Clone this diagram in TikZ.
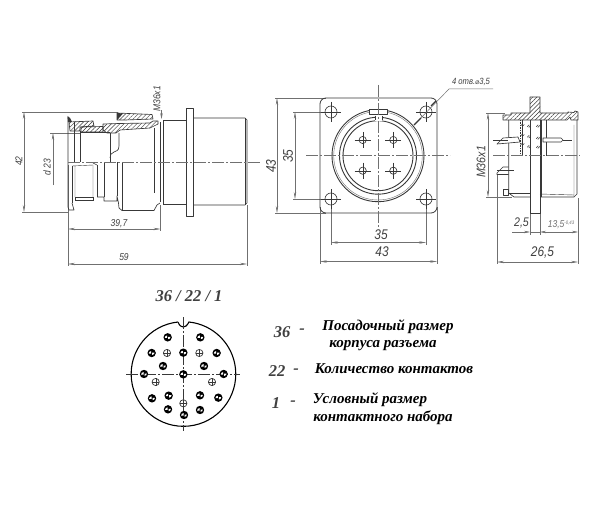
\documentclass[tikz,border=0pt]{standalone}
\usepackage{fontspec}
\setmainfont{Liberation Serif}
\newfontfamily\cadfont[FakeStretch=0.85]{Liberation Sans}
\newfontfamily\symfont{DejaVu Sans}
\usetikzlibrary{arrows.meta,patterns.meta}
\definecolor{ink}{HTML}{383838}
\definecolor{dimc}{HTML}{707070}
\definecolor{txtc}{HTML}{404040}
\tikzset{
  main/.style={draw=ink,line width=.65pt,line join=round},
  thin/.style={draw=ink,line width=.4pt},
  ext/.style={draw=dimc,line width=.4pt},
  dimen/.style={draw=dimc,line width=.45pt,{Stealth[length=7pt,width=2.4pt]}-{Stealth[length=7pt,width=2.4pt]}},
  axis/.style={draw=dimc,line width=.5pt,dash pattern=on 12pt off 2pt on 2pt off 2pt},
  hatch/.style={pattern={Lines[angle=45,distance=3pt,line width=.4pt]},pattern color=ink,draw=ink,line width=.65pt,line join=round},
  dimtxt/.style={font=\cadfont\itshape\fontsize{10}{10}\selectfont,text=txtc,inner sep=0pt},
  bigtxt/.style={font=\cadfont\itshape\fontsize{14}{14}\selectfont,text=txtc,inner sep=0pt},
  legend/.style={font=\bfseries\itshape\fontsize{15}{15}\selectfont,text=black,inner sep=0pt},
  num/.style={font=\bfseries\itshape\fontsize{16.5}{16.5}\selectfont,text=txtc,inner sep=0pt},
  openpin/.style={draw=ink,line width=.7pt,fill=white},
}
\newcommand{\pinfull}[2]{%
  \fill[black] (#1,#2) circle (4.2pt);
  \fill[white] (#1,#2) ++(.5,-.5) -- ++(2.4,0) arc[start angle=0,end angle=-90,radius=2.4pt] -- cycle;
  \fill[white] (#1,#2) ++(-.5,.5) -- ++(-2.4,0) arc[start angle=180,end angle=90,radius=2.4pt] -- cycle;}
\newcommand{\pinopen}[2]{%
  \draw[openpin] (#1,#2) circle (3.6pt);
  \draw[thin,line width=.3pt] (#1-3.6,#2) -- (#1+3.6,#2) (#1,#2-3.6) -- (#1,#2+3.6);}
\begin{document}
\begin{tikzpicture}[x=1pt,y=-1pt]
\useasboundingbox (0,0) rectangle (614,511);
\fill[white] (0,0) rectangle (614,511);

%%% ---------- left view ----------
\draw[ext] (22,112) -- (118,112) (22,212) -- (68,212);
\draw[ext] (50,133) -- (80,133);
\draw[ext] (68,165) -- (68,266) (160.5,205) -- (160.5,231) (247,205) -- (247,266);
\draw[dimen] (24,112) -- (24,212);
\draw[dimen,-{Stealth[length=7pt,width=2.4pt]}] (53,185) -- (53,133);
\draw[dimen] (68,229) -- (160.5,229);
\draw[dimen] (68,264) -- (247,264);
\draw[dimen,{Stealth[length=6pt,width=2.4pt]}-] (161.5,119) -- (161.5,110);
\node[dimtxt,rotate=90] (t42a) at (19,161) {42};
\node[dimtxt,rotate=90] (td23) at (47,167) {d 23};
\node[dimtxt] (t397) at (119,224) {39,7};
\node[dimtxt] (t59) at (124,257) {59};
\node[dimtxt,rotate=90] (tm36a) at (157,99) {M36x1};
% body right
\draw[main] (193,118) -- (245,118) -- (247,120) -- (247,203) -- (245,205) -- (193,205);
\draw[thin] (245,118) -- (245,205);
\draw[main] (186,108) rectangle (193,216);
\draw[main] (163,120.5) -- (186,120.5) (163,204) -- (186,204);
\draw[main] (163,120.5) -- (163,204);
\draw[main] (160.5,122) -- (160.5,202);
% section, hatched parts
\draw[hatch] (69,122) -- (93,121) -- (94,126) -- (80,127) -- (80,131) -- (70,131) -- cycle;
\draw[hatch] (81,127) -- (103,126.5) -- (103,132) -- (81,132) -- cycle;
\draw[hatch] (103,124) -- (119,123.5) -- (150,123) -- (153,121) -- (158,121) -- (158,124) -- (150,128) -- (120,130) -- (116,133) -- (107,133) -- (103,130) -- cycle;
\draw[hatch] (117,113) -- (152,114.5) -- (153,119) -- (125,120) -- (117,120) -- cycle;
\fill[ink] (117,113) -- (123,113.5) -- (119,118) -- (117,120) -- cycle;
\fill[ink] (67.5,116) -- (70,118) -- (72,122) -- (68,122) -- cycle;
\draw[main] (68,117) -- (68,207) -- (69,210) -- (74,210) -- (72,203);
\draw[thin] (72,203) -- (72,166);
\draw[main] (74,122) -- (74,162) (80,131) -- (80,162);
\draw[thin] (72,166) -- (93,165) -- (93,197) (75,166) -- (75,197);
\draw[thin] (75,197) rectangle (93,200);
\draw[main] (93,163) -- (97,165);
\draw[thin] (97,165) -- (97,197);
\draw[main] (97,197) -- (104,197) -- (104,201) -- (117,201) -- (117,196) -- (118.5,203) -- (119,208) -- (122,210.5) -- (154,210.5) -- (157,205) -- (160,203);
\draw[thin] (104,162) -- (104,197);
\draw[main] (117,162) -- (117,196) (122,162) -- (122,210.5);
\draw[main] (154,128) -- (154,193);
\draw[main] (110,133) -- (110,162);
\draw[main] (119,133) -- (119,146) .. controls (119,151) and (116,151) .. (114,152) .. controls (111,153) and (110,155) .. (110,158);
\draw[thin] (81,132) -- (110,132);
\draw[axis] (68,162) -- (260,162);

%%% ---------- front view ----------
\draw[ext] (275,98) -- (326,98) (275,213) -- (326,213);
\draw[ext] (293,112) -- (341,112) (293,199) -- (341,199);
\draw[ext] (320,207) -- (320,264) (437,207) -- (437,264);
\draw[ext] (331,189) -- (331,245) (426,189) -- (426,245);
\draw[dimen] (277,98) -- (277,213);
\draw[dimen] (295,112) -- (295,199);
\draw[dimen] (331,242.5) -- (426,242.5);
\draw[dimen] (320,261.5) -- (437,261.5);
\node[bigtxt,rotate=90] (t43a) at (271,166) {43};
\node[bigtxt,rotate=90] (t35a) at (288,156) {35};
\node[bigtxt] (t35b) at (381,235) {35};
\node[bigtxt] (t43b) at (382,252) {43};
\draw[main,line width=.8pt] (326,98) -- (431,98) arc[start angle=90,end angle=0,radius=6pt] -- (437,207) arc[start angle=0,end angle=-90,radius=6pt] -- (326,213) arc[start angle=-90,end angle=-180,radius=6pt] -- (320,104) arc[start angle=180,end angle=90,radius=6pt] -- cycle;
\foreach \hx/\hy in {331/112,426/112,331/199,426/199}{
  \draw[thin] (\hx-10,\hy) -- (\hx+10,\hy) (\hx,\hy-10) -- (\hx,\hy+10);
  \draw[main] (\hx,\hy) circle (6pt);
}
\draw[main,line width=.9pt] (378,155.7) circle (46pt);
\draw[thin,draw=dimc] (378,155.7) circle (44.3pt);
\draw[main,line width=.9pt] (378,155.7) circle (38.5pt);
\draw[main,line width=.9pt] (378,155.7) circle (35pt);
\fill[white] (375,116.5) rectangle (382,121.5);
\draw[main] (375,116) -- (375,120.5) (382,116) -- (382,120.5);
\draw[main,fill=white] (369.5,109.5) rectangle (387.5,114.5);
\foreach \px/\py in {362.7/140,393.3/140,362.7/170.7,393.3/170.7}{
  \draw[thin] (\px-8,\py) -- (\px+8,\py) (\px,\py-8) -- (\px,\py+8);
  \draw[main] (\px,\py) circle (3.6pt);
}
\draw[axis] (306,155.7) -- (450,155.7);
\draw[axis] (378,85) -- (378,228);
% leader
\coordinate (ldA) at (414,125);
\coordinate (ldB) at (449,89);
\coordinate (ldC) at (493,89);
\draw[dimc,line width=.5pt] (ldA) -- (ldB) -- (ldC);
\draw[ink,line width=1.1pt] (414,125) -- (421,118) (431,106) -- (436,101);
\node[dimtxt,font=\cadfont\itshape\fontsize{9}{9}\selectfont] (thole) at (471,82) {4 отв.{\symfont\fontsize{7}{7}\selectfont ⌀}3,5};

%%% ---------- side view ----------
\draw[ext] (486,113) -- (505,113) (486,197) -- (512,197);
\draw[ext] (497,175) -- (497,264) (578,198) -- (578,264);
\draw[ext] (530,213) -- (530,235) (540,198) -- (540,235);
\draw[dimen] (488,113) -- (488,197);
\draw[dimen] (497,262) -- (578,262);
\draw[dimc,line width=.45pt,-{Stealth[length=6pt,width=2.4pt]}] (512,232) -- (530,232);
\draw[dimc,line width=.45pt,{Stealth[length=6pt,width=2.4pt]}-{Stealth[length=6pt,width=2.4pt]}] (540,232) -- (578,232);
\draw[dimc,line width=.45pt] (530,232) -- (540,232);
\node[bigtxt,rotate=90,font=\cadfont\itshape\fontsize{12.5}{12.5}\selectfont] (tm36b) at (481,162) {M36x1};
\node[bigtxt,font=\cadfont\itshape\fontsize{12.5}{12.5}\selectfont] (t25) at (521.5,223) {2,5};
\node[dimtxt,text=dimc] (t135) at (561,224.5) {13,5\raisebox{3pt}{\fontsize{5}{5}\selectfont -0,43}};
\node[bigtxt] (t265) at (542.5,253) {26,5};
% body
\draw[main] (541.7,120) -- (541.7,197) (546,120) -- (546,155.7);
\draw[main] (508.7,120) -- (508.7,193) -- (514,197) -- (530,197);
\draw[thin] (508.7,193) -- (530,193);
\draw[main] (540,197) -- (574,197) -- (577,194) -- (577,120) ;
\draw[thin] (540,194) -- (574,195) (574,125) -- (574,197);
% insulator
\draw[main,densely dotted] (520.7,120) -- (520.7,155.7);
\draw[main] (522,120) -- (522,155.7);
\foreach \ix/\iy in {522.5/125,529/126,538/126,522.5/135,529/136.5,538/138,522.5/144,529/146.5,538/147}{
  \draw[ink,line width=.5pt] (\ix-1.8,\iy+.8) -- (\ix+.2,\iy-1.2) (\ix-.2,\iy+1.4) -- (\ix+1.8,\iy-.6);
}
% flange + wall
\draw[hatch] (530,97) -- (540,97) -- (540,113) -- (568,113) -- (568,112) -- (574,112.5) -- (575,111) -- (578,112) -- (578,120) -- (571,120) -- (570,117) -- (567,120) -- (503,120) -- (503,115) -- (511,115) -- (511,113) -- (530,113) -- cycle;
\draw[main] (530,120) -- (530,213) -- (540,213) -- (540,120);
% contacts
\draw[main,fill=white] (497,144) -- (503,138) -- (518,137) -- (520,142) -- cycle;
\draw[main,fill=white] (543,138) -- (561,138) -- (563,140) -- (561,142) -- (543,142) -- cycle;
\draw[thin] (493,140.3) -- (508,140.3) (563,140) -- (572,140);
\draw[main] (508.5,167) -- (503,167) -- (497,173) -- (497,174.5) -- (508.5,174.5);
\draw[thin] (497,170) -- (514,170);
\draw[main] (503,189) rectangle (508.5,195);
\draw[axis] (493,155.7) -- (580,155.7);

%%% ---------- contact layout ----------
\node[num] (ttitle) at (189,296) {36 / 22 / 1};
\draw[black,line width=1.1pt] (178,322) arc[start angle=96,end angle=444,radius=52.3pt] .. controls (187,326) and (185,327) .. (183.3,327) .. controls (181.6,327) and (179.5,326) .. (178,322);
\draw[axis,draw=ink] (126,374.3) -- (240,374.3);
\draw[axis,draw=ink] (183.3,317) -- (183.3,431);
\foreach \cx/\cy in {143/157,241/157,95/204,190/203,290/204,129/243,252/243,72/267,190/268,311/267,96/340,146/332,240/331,295/338,144/373,240/375,192/390}{
  \pinfull{120+\cx/3}{285+\cy/3}
}
\foreach \cx/\cy in {141/204,238/204,107/291,276/291,190/355}{
  \pinopen{120+\cx/3}{285+\cy/3}
}

%%% ---------- legend ----------
\node[num] (n36) at (282,332) {36};
\node[num] (d36) at (302,331) {-};
\node[legend] (l1a) at (388,327) {Посадочный размер};
\node[legend] (l1b) at (383,346) {корпуса разъема};
\node[num] (n22) at (277,371) {22};
\node[num] (d22) at (296,371) {-};
\node[legend] (l2) at (394,369) {Количество контактов};
\node[num] (n1) at (276,403) {1};
\node[num] (d1) at (293,403) {-};
\node[legend] (l3a) at (370,400) {Условный размер};
\node[legend] (l3b) at (383,418) {контактного набора};
\end{tikzpicture}
\end{document}
